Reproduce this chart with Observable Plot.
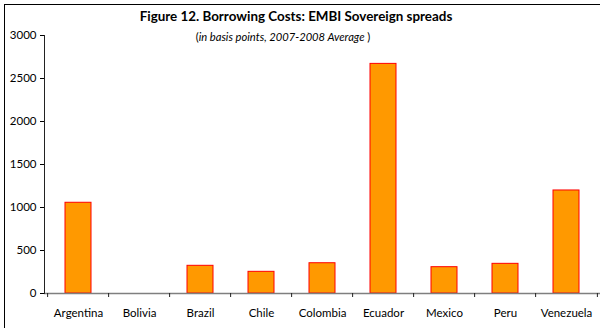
<!DOCTYPE html>
<html><head><meta charset="utf-8">
<script src="https://cdn.jsdelivr.net/npm/d3@7"></script>
<script src="https://cdn.jsdelivr.net/npm/@observablehq/plot@0.6"></script>
<style>
html,body{margin:0;padding:0;background:#fff;}
#wrap{position:relative;width:600px;height:328px;overflow:hidden;font-family:Lato,sans-serif;color:#000;}
#border{position:absolute;left:3.5px;top:3.5px;width:700px;height:400px;border-left:1.5px solid #000;border-top:1.5px solid #000;}
#title{position:absolute;left:0;width:592px;top:9px;text-align:center;font-weight:bold;font-size:13.4px;line-height:15px;white-space:nowrap;}
#sub{position:absolute;left:0;width:566px;top:30px;text-align:center;font-size:11.2px;line-height:13px;white-space:nowrap;}
#chart{position:absolute;left:0;top:0;}
</style></head>
<body>
<div id="wrap">
<div id="border"></div>
<div id="chart"></div>
<div id="title">Figure 12. Borrowing Costs: EMBI Sovereign spreads</div>
<div id="sub">(<i>in basis points, 2007-2008 Average</i> )</div>
</div>
<script>
const countries = ["Argentina","Bolivia","Brazil","Chile","Colombia","Ecuador","Mexico","Peru","Venezuela"];
const spreads = [1055, null, 322, 252, 352, 2670, 306, 345, 1198];
const yTicks = [0, 500, 1000, 1500, 2000, 2500, 3000];

const data = countries.map((c, i) => ({country: c, value: spreads[i]}));
const W = 600, H = 328, ML = 44, MR = 0, MT = 35, MB = 35;
const step = (W - ML - MR) / countries.length;

const chart = Plot.plot({
  width: W, height: H,
  marginLeft: ML, marginRight: MR, marginTop: MT, marginBottom: MB,
  style: {fontFamily: "Lato, sans-serif", fontSize: "11.5px", background: "transparent", color: "#000"},
  x: {domain: countries, paddingInner: 0.58, paddingOuter: 0.29, label: null},
  y: {domain: [0, 3000], label: null},
  marks: [
    Plot.barY(data.filter(d => d.value != null), {x: "country", y: "value", fill: "#FF9900", stroke: "#FF0000", strokeWidth: 1}),
    Plot.ruleY([0], {stroke: "#7f7f7f", strokeWidth: 1.6}),
    Plot.ruleX(countries, {x: d => d, y1: 0, y2: 0, insetBottom: -4, dx: -step / 2, stroke: "#222"}),
    Plot.ruleX([countries[countries.length - 1]], {x: d => d, y1: 0, y2: 0, insetBottom: -4, dx: step / 2, stroke: "#222"}),
    Plot.frame({anchor: "left", stroke: "#222"}),
    Plot.axisY({ticks: yTicks, tickSize: 4, tickPadding: 4, tickFormat: d => String(d), label: null}),
    Plot.axisX({tickSize: 0, tickPadding: 15, label: null})
  ]
});
document.getElementById("chart").appendChild(chart);
</script>
</body></html>
